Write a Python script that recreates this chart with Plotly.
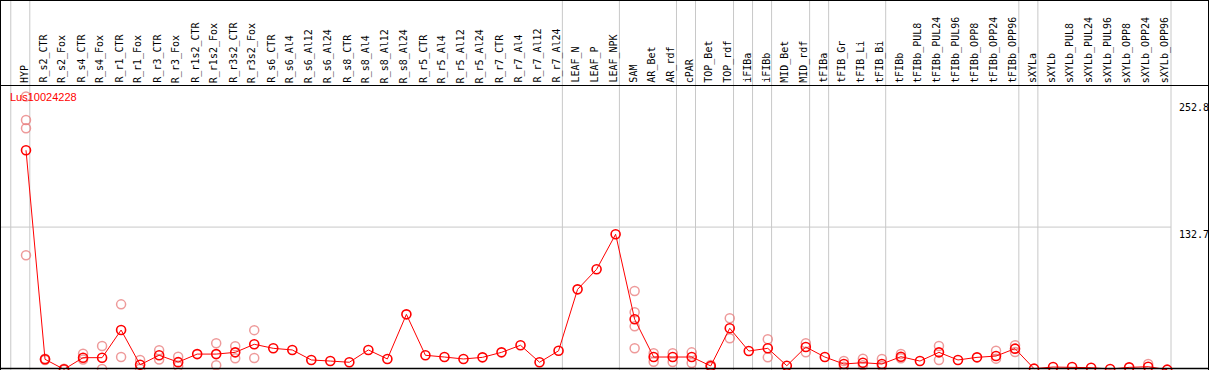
import plotly.graph_objects as go

W, H = 1209, 370

categories = ["HYP", "R_s2_CTR", "R_s2_Fox", "R_s4_CTR", "R_s4_Fox", "R_r1_CTR", "R_r1_Fox",
              "R_r3_CTR", "R_r3_Fox", "R_r1s2_CTR", "R_r1s2_Fox", "R_r3s2_CTR", "R_r3s2_Fox",
              "R_s6_CTR", "R_s6_Al4", "R_s6_Al12", "R_s6_Al24", "R_s8_CTR", "R_s8_Al4",
              "R_s8_Al12", "R_s8_Al24", "R_r5_CTR", "R_r5_Al4", "R_r5_Al12", "R_r5_Al24",
              "R_r7_CTR", "R_r7_Al4", "R_r7_Al12", "R_r7_Al24", "LEAF_N", "LEAF_P", "LEAF_NPK",
              "SAM", "AR_Bet", "AR_rdf", "cPAR", "TOP_Bet", "TOP_rdf", "iFIBa", "iFIBb",
              "MID_Bet", "MID_rdf", "tFIBa", "tFIB_Gr", "tFIB_Li", "tFIB_Bi", "tFIBb",
              "tFIBb_PUL8", "tFIBb_PUL24", "tFIBb_PUL96", "tFIBb_OPP8", "tFIBb_OPP24",
              "tFIBb_OPP96", "sXYLa", "sXYLb", "sXYLb_PUL8", "sXYLb_PUL24", "sXYLb_PUL96",
              "sXYLb_OPP8", "sXYLb_OPP24", "sXYLb_OPP96"]

means = [203.3, 11.2, 2.0, 12.7, 12.7, 38.1, 6.2, 14.9, 8.6, 16.0, 16.0, 17.6, 25.0,
         21.3, 19.8, 10.6, 9.6, 8.5, 19.8, 11.5, 52.5, 14.9, 13.3, 11.5, 13.0,
         17.6, 24.1, 8.5, 19.0, 75.5, 93.9, 126.1, 48.0, 13.3, 13.3, 13.3, 5.1, 39.7,
         18.8, 21.3, 5.3, 22.5, 13.3, 6.9, 8.1, 6.9, 13.6, 9.6, 17.6, 10.6, 13.0, 14.2,
         21.0, 2.6, 4.1, 4.1, 3.5, 2.3, 3.8, 4.4, 1.7]

rep_cats = ["HYP", "HYP", "HYP", "HYP",
            "R_s2_CTR", "R_s2_CTR", "R_s2_Fox", "R_s2_Fox",
            "R_s4_CTR", "R_s4_CTR", "R_s4_Fox", "R_s4_Fox",
            "R_r1_CTR", "R_r1_CTR", "R_r1_Fox", "R_r1_Fox",
            "R_r3_CTR", "R_r3_CTR", "R_r3_Fox", "R_r3_Fox",
            "R_r1s2_Fox", "R_r1s2_Fox", "R_r3s2_CTR", "R_r3s2_CTR",
            "R_r3s2_Fox", "R_r3s2_Fox",
            "SAM", "SAM", "SAM", "SAM",
            "AR_Bet", "AR_Bet", "AR_rdf", "AR_rdf", "cPAR", "cPAR",
            "TOP_Bet", "TOP_Bet", "TOP_rdf", "TOP_rdf",
            "iFIBb", "iFIBb", "MID_rdf", "MID_rdf",
            "tFIB_Gr", "tFIB_Gr", "tFIB_Li", "tFIB_Li", "tFIB_Bi", "tFIB_Bi",
            "tFIBb", "tFIBb", "tFIBb_PUL24", "tFIBb_PUL24",
            "tFIBb_OPP24", "tFIBb_OPP24", "tFIBb_OPP96", "tFIBb_OPP96",
            "sXYLb_OPP24"]
rep_vals = [252.8, 231.1, 223.5, 106.8,
            11.8, 10.6, 2.5, 1.5,
            16.4, 11.0, 23.4, 2.3,
            61.7, 13.3, 10.6, 2.6,
            19.5, 11.0, 13.6, 4.8,
            25.9, 5.8, 23.3, 12.1,
            38.0, 12.4,
            74.0, 54.4, 41.5, 21.3,
            16.7, 9.0, 16.7, 8.7, 17.6, 7.8,
            6.0, 4.2, 48.9, 30.5,
            29.6, 13.0, 25.9, 17.6,
            9.6, 4.4, 11.8, 5.7, 11.5, 5.1,
            16.1, 12.1, 23.4, 10.6,
            19.1, 11.8, 24.1, 17.9,
            6.9]

gene_name = "Lus10024228"
y_tick_vals = [252.8, 132.7, 0]
y_tick_text = ["252.8", "132.7", "0"]
separators_after = ["HYP", "R_r7_Al24", "LEAF_NPK", "AR_rdf", "cPAR", "TOP_rdf", "iFIBa",
                    "iFIBb", "MID_rdf", "tFIBa", "tFIB_Bi", "tFIBb_OPP96", "sXYLa",
                    "sXYLb_OPP96"]

# pixel geometry
x0_px, step_px = 26.0, 19.02
zero_px, k_px = 371.5, 1.0883
x_range = [-x0_px / step_px, (W - x0_px) / step_px]
y_range = [(zero_px - H) / k_px, zero_px / k_px]


def py(p):  # pixel from top -> paper
    return 1 - p / H


def px(p):
    return p / W


fig = go.Figure()

fig.add_trace(go.Scatter(
    x=rep_cats, y=rep_vals, mode="markers",
    marker=dict(symbol="circle-open", size=9, color="rgba(232,120,120,0.75)",
                line=dict(width=1.5, color="rgba(232,120,120,0.75)")),
    hoverinfo="skip", showlegend=False))

fig.add_trace(go.Scatter(
    x=categories, y=means, mode="lines+markers",
    line=dict(color="#ff0000", width=1),
    marker=dict(symbol="circle-open", size=9, color="#ff0000",
                line=dict(width=1.6, color="#ff0000")),
    showlegend=False))

shapes = []
gray = "#c8c8c8"
idx = {c: i for i, c in enumerate(categories)}
sep_x = [-1 + 0.2] + [idx[c] + 0.2 for c in separators_after]
for sx in sep_x:
    shapes.append(dict(type="line", xref="x", yref="paper", x0=sx, x1=sx, y0=0, y1=1,
                       line=dict(color=gray, width=1), layer="below"))
shapes.append(dict(type="line", xref="paper", yref="y", x0=0,
                   x1=px(x0_px + step_px * (60.2)), y0=y_tick_vals[1], y1=y_tick_vals[1],
                   line=dict(color=gray, width=1), layer="below"))
shapes.append(dict(type="line", xref="paper", yref="paper", x0=0, x1=1,
                   y0=py(85.5), y1=py(85.5), line=dict(color="black", width=1)))
shapes.append(dict(type="line", xref="paper", yref="paper", x0=0, x1=1,
                   y0=py(0.5), y1=py(0.5), line=dict(color="black", width=1)))
shapes.append(dict(type="line", xref="paper", yref="paper", x0=0, x1=1,
                   y0=py(368.5), y1=py(368.5), line=dict(color="black", width=1.5)))
shapes.append(dict(type="line", xref="paper", yref="paper", x0=px(0.5), x1=px(0.5),
                   y0=0, y1=1, line=dict(color="black", width=1)))
shapes.append(dict(type="line", xref="paper", yref="paper", x0=px(1208.5), x1=px(1208.5),
                   y0=0, y1=1, line=dict(color="black", width=1)))

annotations = []
mono = dict(family="DejaVu Sans Mono", size=10, color="black")
for c in categories:
    annotations.append(dict(x=c, y=py(84), xref="x", yref="paper", text=c,
                            textangle=-90, showarrow=False, xanchor="center",
                            yanchor="bottom", xshift=-2, font=mono, borderpad=0))
annotations.append(dict(x=px(9), y=py(97), xref="paper", yref="paper", text=gene_name,
                        showarrow=False, xanchor="left", yanchor="middle",
                        font=dict(family="Liberation Sans, Arial", size=11, color="#ff0000"),
                        borderpad=0))
shifts = [-5, -1, 4]
anchors = ["top", "top", "bottom"]
for v, t, s, a in zip(y_tick_vals, y_tick_text, shifts, anchors):
    annotations.append(dict(x=px(1178), y=v, xref="paper", yref="y", text=t,
                            showarrow=False, xanchor="left", yanchor=a, yshift=s,
                            font=mono, borderpad=0))

fig.update_layout(
    width=W, height=H, margin=dict(l=0, r=0, t=0, b=0),
    paper_bgcolor="white", plot_bgcolor="white",
    xaxis=dict(type="category", categoryorder="array", categoryarray=categories,
               range=x_range, showticklabels=False, showgrid=False, zeroline=False,
               ticks="", fixedrange=True),
    yaxis=dict(range=y_range, showticklabels=False, showgrid=False, zeroline=False,
               ticks="", fixedrange=True),
    shapes=shapes, annotations=annotations, showlegend=False,
)

fig.write_html("out.html", config={"displayModeBar": False},
               post_script="document.body.style.margin='0px';document.body.style.overflow='hidden';")
